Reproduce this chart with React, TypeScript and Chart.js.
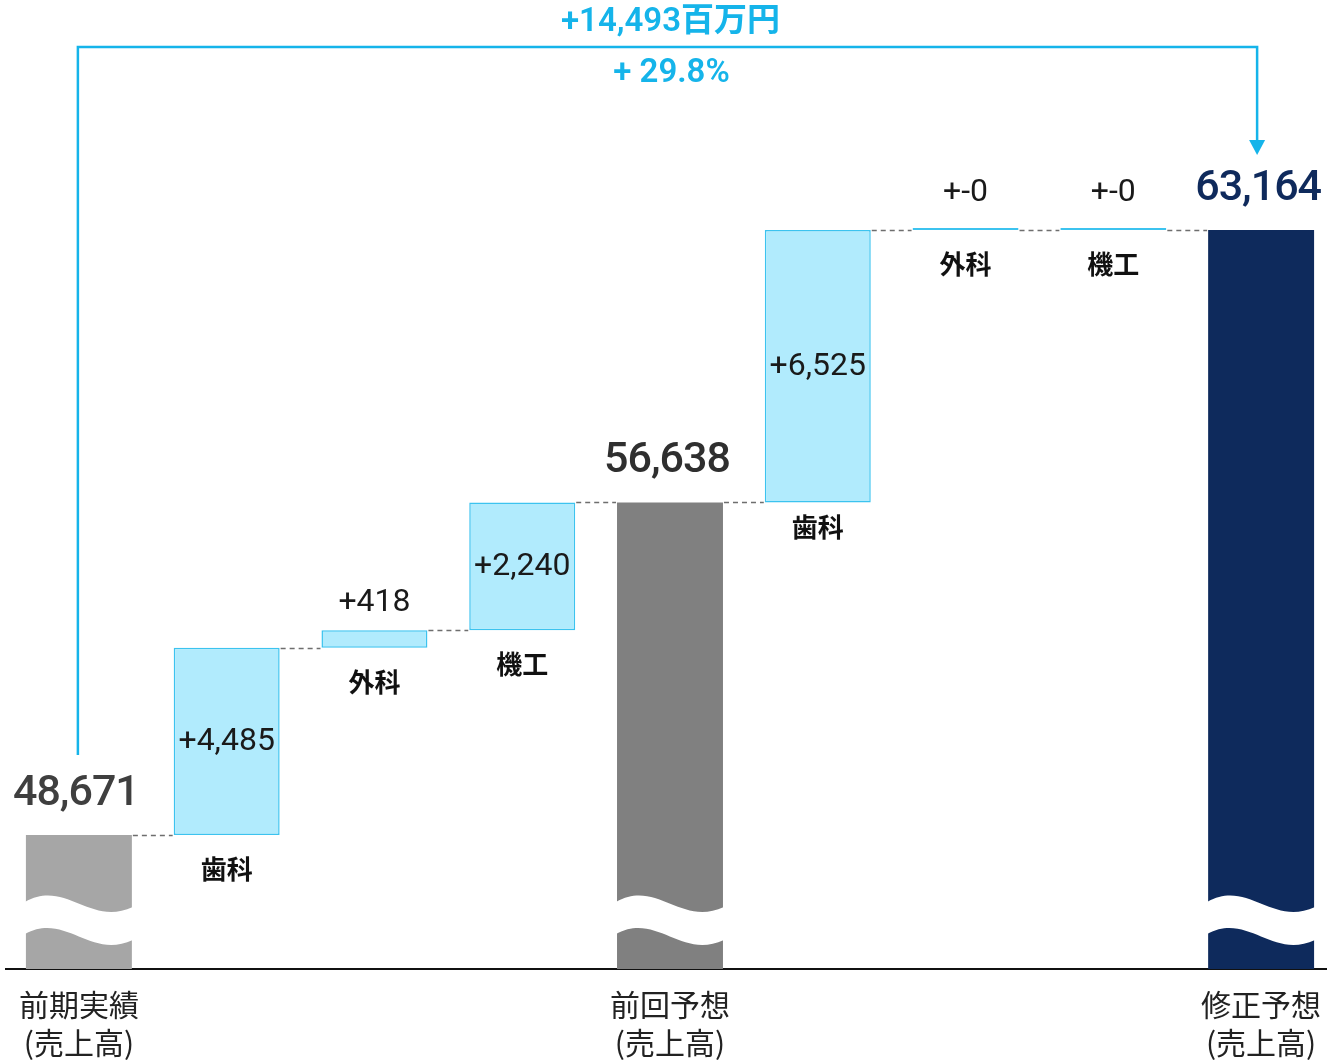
import React, { useEffect, useRef } from 'react';
import { Chart, registerables } from 'chart.js';

Chart.register(...registerables);

// ---- data ----
const categories = ['前期実績', '歯科', '外科', '機工', '前回予想', '歯科', '外科', '機工', '修正予想'];
const axisLabels: (string | string[])[] = [
  ['前期実績', '(売上高)'], '', '', '',
  ['前回予想', '(売上高)'], '', '', '',
  ['修正予想', '(売上高)'],
];
const kinds = ['total', 'delta', 'delta', 'delta', 'total', 'delta', 'delta', 'delta', 'total'];
const values = [48671, 4485, 418, 2240, 56638, 6525, 0, 0, 63164];
const axisMin = 45461;
const axisMax = 68674;

const totalColors = ['#a6a6a6', '#808080', '#0e2a5c', '#0e2a5c', '#0e2a5c'];
const totalLabelColors = ['#3f3f3f', '#2f2f2f', '#0f2a5c'];
const deltaFill = '#b1ebfd';
const deltaBorder = '#3cc3ef';
const accent = '#15b4ea';

// floating ranges derived from the values
const ranges: [number, number][] = [];
{
  let running = 0;
  values.forEach((v, i) => {
    if (kinds[i] === 'total') {
      ranges.push([axisMin, v]);
      running = v;
    } else {
      const end = kinds[i + 1] === 'total' ? values[i + 1] : running + v;
      ranges.push([running, end]);
      running = end;
    }
  });
}

const fmtDelta = (v: number) => (v === 0 ? '+-0' : '+' + v.toLocaleString('en-US'));
const fmt = (v: number) => v.toLocaleString('en-US');

const NUM_FONT = "Roboto, 'Noto Sans CJK JP', sans-serif";
const JP_FONT = "'Noto Sans CJK JP', sans-serif";

const waterfallPlugin = {
  id: 'waterfallDeco',
  afterDatasetsDraw(chart: any) {
    const ctx: CanvasRenderingContext2D = chart.ctx;
    const meta = chart.getDatasetMeta(0);
    const yScale = chart.scales.y;
    const base = chart.chartArea.bottom;
    ctx.save();

    // wave breaks on total bars
    meta.data.forEach((bar: any, i: number) => {
      if (kinds[i] !== 'total') return;
      const x0 = bar.x - bar.width / 2 - 1;
      const x1 = bar.x + bar.width / 2 + 1;
      const w = x1 - x0;
      ctx.fillStyle = '#ffffff';
      ctx.beginPath();
      ctx.moveTo(x0, base - 67);
      ctx.bezierCurveTo(x0 + 0.38 * w, base - 90, x0 + 0.6 * w, base - 42, x1, base - 62);
      ctx.lineTo(x1, base - 29);
      ctx.bezierCurveTo(x0 + 0.6 * w, base - 9, x0 + 0.38 * w, base - 57, x0, base - 35);
      ctx.closePath();
      ctx.fill();
    });

    // dashed connectors
    ctx.strokeStyle = '#6e6e6e';
    ctx.lineWidth = 1.5;
    ctx.setLineDash([5, 4]);
    for (let i = 0; i < meta.data.length - 1; i++) {
      const a = meta.data[i];
      const b = meta.data[i + 1];
      const py = Math.round(yScale.getPixelForValue(ranges[i][1])) + 0.5;
      ctx.beginPath();
      ctx.moveTo(a.x + a.width / 2 + 1, py);
      ctx.lineTo(b.x - b.width / 2 - 1, py);
      ctx.stroke();
    }
    ctx.setLineDash([]);

    // labels
    ctx.textAlign = 'center';
    let totalIdx = 0;
    meta.data.forEach((bar: any, i: number) => {
      const top = Math.min(bar.y, bar.base);
      const bottom = Math.max(bar.y, bar.base);
      if (kinds[i] === 'total') {
        ctx.font = `500 43px ${NUM_FONT}`;
        (ctx as any).letterSpacing = '-1px';
        ctx.fillStyle = totalLabelColors[totalIdx++];
        ctx.textBaseline = 'alphabetic';
        ctx.fillText(fmt(values[i]), bar.x - 3, top - 30);
        (ctx as any).letterSpacing = '0px';
      } else {
        const h = bottom - top;
        const cy = (top + bottom) / 2;
        ctx.font = `400 32px ${NUM_FONT}`;
        ctx.fillStyle = '#1a1a1a';
        ctx.textBaseline = 'middle';
        ctx.fillText(fmtDelta(values[i]), bar.x, h > 60 ? cy + 1 : cy - 36);
        ctx.font = `bold 26px ${JP_FONT}`;
        ctx.fillStyle = '#111111';
        ctx.fillText(categories[i], bar.x, bottom + (h > 200 ? 25 : 34));
      }
    });

    // overall change annotation
    const first = meta.data[0];
    const last = meta.data[meta.data.length - 1];
    const ax0 = first.x - 1;
    const ax1 = last.x - 4;
    const startY = yScale.getPixelForValue(values[0]) - 80;
    const tipY = yScale.getPixelForValue(values[values.length - 1]) - 75;
    const lineY = 47;
    ctx.strokeStyle = accent;
    ctx.fillStyle = accent;
    ctx.lineWidth = 2.5;
    ctx.beginPath();
    ctx.moveTo(ax0, startY);
    ctx.lineTo(ax0, lineY);
    ctx.lineTo(ax1, lineY);
    ctx.lineTo(ax1, tipY - 12);
    ctx.stroke();
    ctx.beginPath();
    ctx.moveTo(ax1 - 8, tipY - 15);
    ctx.lineTo(ax1 + 8, tipY - 15);
    ctx.lineTo(ax1, tipY);
    ctx.closePath();
    ctx.fill();

    const diff = values[values.length - 1] - values[0];
    const pct = (diff / values[0]) * 100;
    const mid = (ax0 + ax1) / 2;
    ctx.textBaseline = 'middle';
    ctx.font = `600 33px ${NUM_FONT}`;
    ctx.fillText('+' + fmt(diff) + '百万円', mid + 3, lineY - 24);
    ctx.fillText('+ ' + pct.toFixed(1) + '%', mid + 4, lineY + 27);

    ctx.restore();
  },
};

export default function App() {
  const ref = useRef<HTMLCanvasElement | null>(null);

  useEffect(() => {
    if (!ref.current) return;
    let totalCount = 0;
    const bg = kinds.map((k) => (k === 'total' ? totalColors[totalCount++] : deltaFill));
    const chart = new Chart(ref.current, {
      type: 'bar',
      data: {
        labels: categories,
        datasets: [
          {
            data: ranges as any,
            backgroundColor: bg,
            borderColor: kinds.map((k) => (k === 'total' ? 'rgba(0,0,0,0)' : deltaBorder)),
            borderWidth: kinds.map((k) => (k === 'total' ? 0 : 1.5)),
            borderSkipped: false,
            barPercentage: 0.717,
            categoryPercentage: 1,
            minBarLength: 2,
          },
        ],
      },
      options: {
        responsive: false,
        animation: false,
        devicePixelRatio: 1,
        layout: { padding: 0 },
        plugins: {
          legend: { display: false },
          tooltip: { enabled: false },
          title: { display: false },
        },
        scales: {
          x: {
            grid: { display: false, drawTicks: false },
            border: { display: true, color: '#111111', width: 2 },
            ticks: {
              autoSkip: false,
              maxRotation: 0,
              padding: 17,
              color: '#222222',
              font: { family: JP_FONT, size: 30, lineHeight: 38 / 30 },
              callback: (_v: any, idx: number) => axisLabels[idx],
            },
            afterFit: (scale: any) => {
              scale.height = 93;
              scale.paddingLeft = 0;
              scale.paddingRight = 0;
            },
          },
          y: {
            display: false,
            min: axisMin,
            max: axisMax,
          },
        },
      },
      plugins: [waterfallPlugin],
    });
    return () => chart.destroy();
  }, []);

  return (
    <div
      style={{
        position: 'fixed',
        left: 0,
        top: 0,
        width: 1327,
        height: 1062,
        overflow: 'hidden',
        background: '#ffffff',
      }}
    >
      <canvas
        ref={ref}
        width={1330}
        height={1062}
        style={{ position: 'absolute', left: 5, top: 0, width: 1330, height: 1062 }}
      />
    </div>
  );
}
